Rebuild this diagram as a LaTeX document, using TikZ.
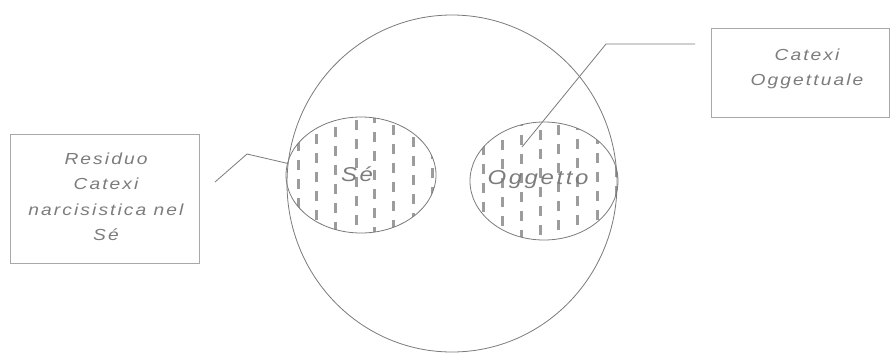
\documentclass[tikz,border=0pt]{standalone}
\usepackage{fontspec}
\usetikzlibrary{shapes.geometric}
\newfontfamily\hand[LetterSpace=13,FakeStretch=1.2]{Liberation Sans}
\definecolor{lineg}{HTML}{7A7A7A}
\definecolor{boxg}{HTML}{A8A8A8}
\definecolor{textg}{HTML}{7C7C7C}
\definecolor{hatchg}{HTML}{9C9C9C}
\begin{document}
\begin{tikzpicture}[x=1pt,y=-1pt,
  oval/.style={ellipse, draw=lineg, line width=0.8pt, inner sep=0pt},
  boxnode/.style={draw=boxg, line width=0.9pt, inner sep=0pt},
  lbl/.style={text=textg, align=center, font=\hand\itshape\fontsize{16}{25.5}\selectfont},
  biglbl/.style={text=textg, font=\hand\itshape\fontsize{20}{24}\selectfont},
  conn/.style={draw=lineg, line width=0.8pt},
  hatch/.style={draw=hatchg, line width=3pt, dash pattern=on 10pt off 9pt}]
\useasboundingbox (0,0) rectangle (891,354);
% hatching
\begin{scope}
  \clip (361,175) ellipse [x radius=75, y radius=58];
  \foreach \i/\x in {0/279,1/298,2/316,3/335,4/356,5/374,6/393,7/413,8/432}
    \draw[hatch, dash phase={mod(7*\i,19)}] (\x,110) -- (\x,240);
\end{scope}
\begin{scope}
  \clip (544,181) ellipse [x radius=74, y radius=59];
  \foreach \i/\x in {0/464,1/483,2/502,3/521,4/540,5/558,6/577,7/597,8/616}
    \draw[hatch, dash phase={mod(5*\i+3,19)}] (\x,115) -- (\x,245);
\end{scope}
% shapes
\node[oval, minimum width=330, minimum height=337] (big) at (452,183.5) {};
\node[oval, minimum width=150, minimum height=116] (se) at (361,175) {};
\node[oval, minimum width=148, minimum height=118] (obj) at (544,181) {};
\node[biglbl] (setxt) at (357,174) {Sé};
\node[biglbl] (objtxt) at (538,180) {Oggetto};
% boxes
\node[boxnode, minimum width=189, minimum height=129] (lbox) at (105,199) {};
\node[lbl] (ltxt) at (106,197) {Residuo\\Catexi\\narcisistica nel\\Sé};
\node[boxnode, minimum width=178, minimum height=89] (rbox) at (800.5,72.5) {};
\node[lbl] (rtxt) at (807,69) {Catexi\\Oggettuale};
% connectors
\coordinate (lstart) at (215,182);
\coordinate (lbend) at (247,154);
\draw[conn] (lstart) -- (lbend) -- (se.171);
\coordinate (rstart) at (695,44);
\coordinate (rbend) at (606,44);
\coordinate (rtip) at (522,147);
\draw[conn] (rstart) -- (rbend) -- (rtip);
\end{tikzpicture}
\end{document}
